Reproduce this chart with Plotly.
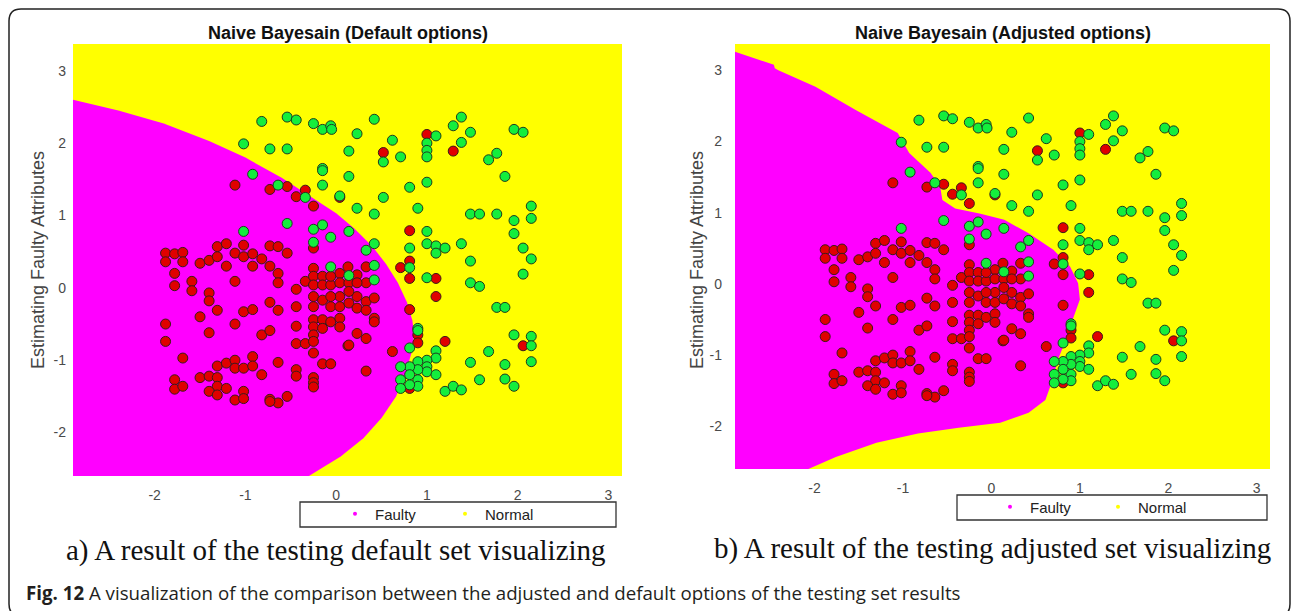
import plotly.graph_objects as go

# ---------------- data ----------------
x_limits = [-2.9, 3.15]
y_limits = [-2.6, 3.37]
tick_vals = [-2, -1, 0, 1, 2, 3]
tick_text = ["-2", "-1", "0", "1", "2", "3"]

# test points labelled "Faulty" (red)
faulty_x = [-1.115, -0.73, -0.54, -0.44, -0.34, -0.25, 0.04,
            -1.88, -1.78, -1.69, -1.88, -1.69, -1.78, -1.78, -1.59, -1.59, -1.50, -1.40, -1.31, -1.31,
            -1.21, -1.21, -1.115, -1.115, -1.02, -1.02, -0.92, -0.92, -0.82, -0.73, -0.73, -0.64, -0.64,
            -0.64, -0.54, -1.40, -1.40, -1.31, -1.50, -1.02, -0.92, -0.73, -0.64, -0.44, -0.44, -0.34,
            -0.25, -0.25, -0.25, -0.15, -0.15, -0.06, -0.25, -0.25, -0.15, -0.06, 0.04, 0.04, -0.06,
            -0.25, 0.04, 0.04, -0.06,
            -1.88, -1.88, -1.40, -1.115, -0.82, -0.73, -0.44, -0.44, -0.34, -0.25, -0.25, -0.25, -0.25,
            -0.15, -0.15, -0.06, 0.04, 0.04, 0.13, -1.69, -0.25, -0.15, -0.06, -0.92, -1.31, -1.21,
            -1.115, -1.115, -1.02, -0.92, -0.64, -0.82, -0.44, -0.44, -0.25, -0.25, -0.25, -1.78, -1.78,
            -1.69, -1.50, -1.40, -1.31, -1.31, -1.21, -1.40, -1.31, -1.115, -1.02, -1.02, -0.73, -0.64,
            -0.54, -0.73,
            1.00, 0.52, 1.29, 0.81, 0.81, 0.71, 0.81, 1.10, 1.10, 0.81, 0.33, 0.23, 0.33, 0.14, 0.23,
            0.33, 0.42, 0.14, 0.23, 0.33, 0.42,
            0.90, 0.90, 1.20, 2.06, 0.62, 0.33, 0.14, 0.33, 0.42, 0.23, 0.81,
            0.13, 0.23, 0.14]
faulty_y = [1.42, 1.36, 1.40, 1.26, 1.35, 1.13, 1.25,
            0.48, 0.47, 0.49, 0.36, 0.36, 0.20, 0.03, 0.09, -0.04, 0.34, 0.38, 0.57, 0.43,
            0.61, 0.30, 0.48, 0.09, 0.59, 0.43, 0.47, 0.30, 0.40, 0.58, 0.30, 0.57, 0.20,
            0.07, 0.48, -0.07, -0.18, -0.31, -0.40, -0.33, -0.30, -0.20, -0.31, -0.26, -0.02, 0.09,
            0.27, 0.16, 0.04, 0.16, 0.04, 0.04, -0.12, -0.26, -0.17, -0.26, -0.12, -0.26, -0.12,
            0.55, 0.20, 0.07, 0.16,
            -0.50, -0.74, -0.62, -0.50, -0.65, -0.59, -0.53, -0.77, -0.77, -0.44, -0.54, -0.65, -0.74,
            -0.44, -0.56, -0.47, -0.42, -0.54, -0.80, -0.97, -0.90, -1.05, -1.05, -0.95, -1.08, -1.04,
            -1.00, -1.11, -1.11, -1.08, -1.03, -1.20, -1.13, -1.22, -1.24, -1.31, -1.37, -1.27, -1.40,
            -1.36, -1.24, -1.22, -1.24, -1.36, -1.39, -1.43, -1.48, -1.55, -1.43, -1.53, -1.54, -1.59,
            -1.50, -1.57,
            2.12, 1.87, 1.89, 0.79, 0.37, 0.28, 0.13, 0.13, -0.12, -0.30, 0.29, 0.18, 0.07, 0.07, -0.12,
            -0.19, -0.14, -0.21, -0.28, -0.31, -0.42,
            -0.65, -0.76, -0.74, -0.80, -0.88, -1.15, -0.79, -0.70, -0.47, -0.63, -1.39,
            0.29, 0.07, -0.05]

# test points labelled "Normal" (green)
normal_x = [-0.82, -0.54, -0.44, -0.25, -0.15, -0.06, -0.05, -1.02, -0.73, -0.54, -0.15, -0.15, -0.15,
            0.04, -0.92, -0.64, -0.34, -0.54, -1.02, -0.25, -0.15, -0.06, -0.25, -0.06,
            0.42, 0.23, 0.14, 0.62, 0.52, 0.71, 1.00, 1.00, 1.00, 1.10, 1.29, 1.38, 1.48, 1.38, 1.68,
            1.77, 1.96, 2.06, 0.14, 0.81, 1.00, 1.86, 0.52, 0.23, 0.42, 0.90, 1.48, 1.58, 1.77, 2.15,
            2.15, 1.96, 1.96, 0.14, 0.33, 0.42, 1.00, 0.81, 1.00, 1.10, 1.20, 1.10, 1.38, 2.06, 2.15,
            1.48, 2.06, 0.42, 0.42, 0.14, 0.81, 1.00, 1.48, 1.58, 1.77, 1.86,
            0.90, 0.90, 0.81, 1.10, 1.10, 1.00, 1.00, 1.00, 0.90, 0.90, 0.90, 0.90, 0.81, 0.81, 0.81,
            0.71, 0.71, 0.71, 1.10, 1.20, 1.29, 1.38, 1.48, 1.58, 1.68, 1.86, 1.86, 1.96, 1.96, 2.15,
            2.15, 2.15]
normal_y = [2.30, 2.36, 2.32, 2.27, 2.19, 2.24, 2.19, 1.99, 1.92, 1.92, 1.65, 1.62, 1.42,
            1.27, 1.57, 1.42, 1.25, 0.89, 0.78, 0.81, 0.87, 0.70, 0.63, 0.29,
            2.33, 2.13, 1.89, 2.04, 1.74, 1.81, 2.00, 1.90, 1.81, 2.10, 2.24, 2.36, 2.15, 2.01, 1.77,
            1.86, 2.19, 2.15, 1.54, 1.39, 1.46, 1.54, 1.25, 1.10, 1.02, 1.10, 1.02, 1.02, 1.02, 1.13,
            0.96, 0.93, 0.75, 0.78, 0.52, 0.61, 0.78, 0.55, 0.61, 0.58, 0.55, 0.48, 0.61, 0.55, 0.40,
            0.37, 0.19, 0.31, 0.11, 0.17, 0.28, 0.14, 0.07, 0.02, -0.27, -0.27,
            -0.56, -0.59, -0.83, -0.87, -0.97, -1.00, -1.09, -1.16, -1.02, -1.13, -1.27, -1.36, -1.09,
            -1.20, -1.34, -1.09, -1.27, -1.39, -1.20, -1.43, -1.36, -1.41, -1.03, -1.27, -0.88, -1.06,
            -1.26, -1.36, -0.65, -0.67, -0.80, -1.02]

# decision boundary of the "Faulty" region, default options
default_bx = [-2.9, -2.4, -1.9, -1.4, -1.0, -0.6, -0.3, 0.0, 0.2, 0.4, 0.55, 0.68, 0.78, 0.84,
              0.86, 0.83, 0.76, 0.66, 0.50, 0.30, 0.05, -0.3, -2.9]
default_by = [2.6, 2.45, 2.27, 2.03, 1.80, 1.52, 1.28, 1.03, 0.82, 0.57, 0.33, 0.07, -0.2, -0.45,
              -0.65, -0.9, -1.2, -1.5, -1.8, -2.08, -2.33, -2.6, -2.6]

# decision boundary of the "Faulty" region, adjusted options
adjusted_bx = [-2.9, -2.46, -2.45, -2.41, -1.99, -1.53, -1.06, -0.93, -0.69, -0.58, -0.555, -0.41,
               -0.135, 0.145, 0.42, 0.70, 0.89, 0.98, 1.0, 0.93, 0.84, 0.75, 0.68, 0.61, 0.42, 0.10,
               -0.37, -0.83, -1.30, -1.76, -2.07, -2.9]
adjusted_by = [3.26, 3.08, 3.03, 3.0, 2.77, 2.44, 2.12, 1.84, 1.56, 1.37, 1.18, 1.06,
               0.99, 0.90, 0.71, 0.48, 0.24, 0.01, -0.22, -0.46, -0.79, -1.07, -1.39, -1.63, -1.81, -1.95,
               -2.02, -2.10, -2.23, -2.43, -2.6, -2.6]

panel_titles = ["Naive Bayesain (Default options)", "Naive Bayesain (Adjusted options)"]
captions = ["a) A result of the testing default set visualizing",
            "b) A result of the testing adjusted set visualizing"]
y_title = "Estimating Faulty Attributes"
class_names = ["Faulty", "Normal"]
fig_caption_bold = "Fig. 12"
fig_caption = "A visualization of the comparison between the adjusted and default options of the testing set results"

# ---------------- styling ----------------
W, H = 1295, 611
MAGENTA = "#FF00FF"
YELLOW = "#FFFF00"
RED = "#E00000"
GREEN = "#14EE3C"
SANS = "Liberation Sans, Arial, sans-serif"


def px(x):
    return x / W


def py(y):
    return 1 - y / H


fig = go.Figure()

panels = [
    dict(xa="x", ya="y", bx=[x_limits[0]] + default_bx, by=[y_limits[0]] + default_by),
    dict(xa="x2", ya="y2", bx=[x_limits[0]] + adjusted_bx, by=[y_limits[0]] + adjusted_by),
]
for p in panels:
    fig.add_trace(go.Scatter(x=p["bx"], y=p["by"], mode="lines", fill="toself", fillcolor=MAGENTA,
                             line=dict(width=0, color=MAGENTA), xaxis=p["xa"], yaxis=p["ya"],
                             showlegend=False, hoverinfo="skip"))
    fig.add_trace(go.Scatter(x=faulty_x, y=faulty_y, mode="markers", xaxis=p["xa"], yaxis=p["ya"],
                             marker=dict(size=10, color=RED, line=dict(width=1, color="#3a1a1a")),
                             showlegend=False))
    fig.add_trace(go.Scatter(x=normal_x, y=normal_y, mode="markers", xaxis=p["xa"], yaxis=p["ya"],
                             marker=dict(size=10, color=GREEN, line=dict(width=1, color="#1f3a1f")),
                             showlegend=False))

# legend entries (tiny dots like the original)
for lg in ["legend", "legend2"]:
    fig.add_trace(go.Scatter(x=[None], y=[None], mode="markers", name=class_names[0],
                             marker=dict(size=4, color=MAGENTA), legend=lg))
    fig.add_trace(go.Scatter(x=[None], y=[None], mode="markers", name=class_names[1],
                             marker=dict(size=4, color=YELLOW), legend=lg))

axis_common = dict(showgrid=False, zeroline=False, showline=False, ticks="",
                   tickvals=tick_vals, ticktext=tick_text,
                   tickfont=dict(family=SANS, size=14, color="#4a4a4a"))

fig.update_layout(
    width=W, height=H,
    margin=dict(l=0, r=0, t=0, b=0),
    paper_bgcolor="white",
    plot_bgcolor=YELLOW,
    showlegend=True,
    xaxis=dict(axis_common, range=x_limits, domain=[px(73), px(622)], anchor="y", ticklabelstandoff=9),
    yaxis=dict(axis_common, range=y_limits, domain=[py(476), py(44)], anchor="x", ticklabelstandoff=6),
    xaxis2=dict(axis_common, range=x_limits, domain=[px(735), px(1270)], anchor="y2", ticklabelstandoff=9),
    yaxis2=dict(axis_common, range=y_limits, domain=[py(469), py(44)], anchor="x2", ticklabelstandoff=12),
    legend=dict(orientation="h", x=px(335), xanchor="left", y=py(514), yanchor="middle",
                bgcolor="rgba(0,0,0,0)", borderwidth=0, entrywidth=65, entrywidthmode="pixels",
                font=dict(family=SANS, size=15, color="#222")),
    legend2=dict(orientation="h", x=px(990), xanchor="left", y=py(507), yanchor="middle",
                 bgcolor="rgba(0,0,0,0)", borderwidth=0, entrywidth=63, entrywidthmode="pixels",
                 font=dict(family=SANS, size=15, color="#222")),
)

shapes = [
    dict(type="rect", xref="paper", yref="paper", x0=px(300), x1=px(616), y0=py(527), y1=py(502),
         line=dict(color="#333", width=1.3), fillcolor="white", layer="below"),
    dict(type="rect", xref="paper", yref="paper", x0=px(957), x1=px(1267), y0=py(520), y1=py(495),
         line=dict(color="#333", width=1.3), fillcolor="white", layer="below"),
]
# rounded outer frame
L, T, R, B, r = 9, 9, 1290, 616, 12
path = (f"M {px(L)},{py(T + r)} Q {px(L)},{py(T)} {px(L + r)},{py(T)} "
        f"L {px(R - r)},{py(T)} Q {px(R)},{py(T)} {px(R)},{py(T + r)} "
        f"L {px(R)},{py(B - r)} Q {px(R)},{py(B)} {px(R - r)},{py(B)} "
        f"L {px(L + r)},{py(B)} Q {px(L)},{py(B)} {px(L)},{py(B - r)} Z")
shapes.append(dict(type="path", xref="paper", yref="paper", path=path,
                   line=dict(color="#222", width=1.5)))
fig.update_layout(shapes=shapes)

ann = []
for cx, t in zip([347.5, 1002.5], panel_titles):
    ann.append(dict(text=f"<b>{t}</b>", x=px(cx), y=py(33), xref="paper", yref="paper",
                    showarrow=False, xanchor="center", yanchor="middle",
                    font=dict(family=SANS, size=18, color="#111")))
for cx in [38, 697]:
    ann.append(dict(text=y_title, x=px(cx), y=py(260), xref="paper", yref="paper", textangle=-90,
                    showarrow=False, xanchor="center", yanchor="middle",
                    font=dict(family=SANS, size=18, color="#444")))
for cx, cy, t in zip([336, 992], [550, 548], captions):
    ann.append(dict(text=t, x=px(cx), y=py(cy), xref="paper", yref="paper",
                    showarrow=False, xanchor="center", yanchor="middle",
                    font=dict(family="Liberation Serif, Times New Roman, serif", size=29, color="#111")))
ann.append(dict(text=f"<b>{fig_caption_bold}</b> {fig_caption}", x=px(24), y=py(592),
                xref="paper", yref="paper", showarrow=False, xanchor="left", yanchor="middle",
                font=dict(family="Open Sans, Noto Sans, sans-serif", size=18.7, color="#231F20")))
fig.update_layout(annotations=ann)

fig.write_html("out.html")
